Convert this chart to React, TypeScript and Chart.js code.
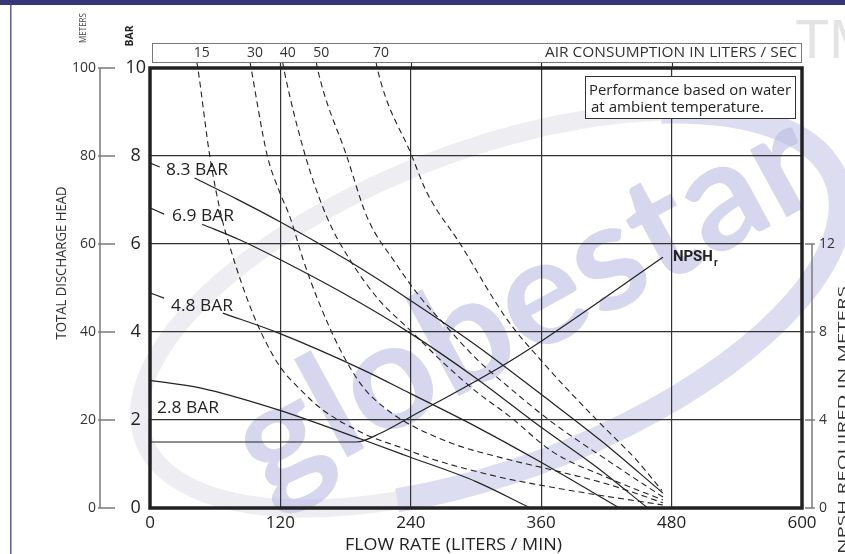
import React, { useEffect, useRef } from 'react';
import { Chart, registerables } from 'chart.js';

Chart.register(...registerables);

// ---------------- DATA ----------------
const flowTicks = [0, 120, 240, 360, 480, 600];
const barTicks = [0, 2, 4, 6, 8, 10];
const meterTicks = [0, 20, 40, 60, 80, 100];
const npshTicks = [0, 4, 8, 12];

// Pressure curves: [flow L/min, head bar]
const bar83 = [[41, 7.5], [80, 7.02], [120, 6.5], [181, 5.64], [239, 4.73], [300, 3.7], [359, 2.6], [414, 1.55], [472, 0.34]];
const bar69 = [[48, 6.45], [83, 6.09], [120, 5.64], [180, 4.85], [239, 3.98], [300, 2.95], [359, 1.85], [410, 0.95], [458, 0]];
const bar48 = [[67, 4.43], [118, 3.98], [196, 3.14], [239, 2.61], [300, 1.85], [359, 1.05], [432, 0]];
const bar28 = [[0, 2.9], [46, 2.73], [118, 2.23], [196, 1.55], [239, 1.16], [300, 0.6], [350, 0]];

// Label leaders [flow, bar]
const lead83 = [[0, 7.84], [9, 7.75]];
const lead69 = [[0, 6.82], [13, 6.68]];
const lead48 = [[0, 4.89], [13, 4.77]];

// Air consumption curves (liters/sec) [flow, bar]
const air15 = [[43, 10.14], [44, 10], [55, 8], [66, 6.6], [74, 5.9], [83, 5.2], [95, 4.4], [106, 3.8], [120, 3.2], [140, 2.65], [159, 2.23], [196, 1.7], [237, 1.32], [260, 1.11], [322, 0.7], [359, 0.52], [411, 0.3], [472, 0.07]];
const air30 = [[92, 10.14], [93, 10], [108, 8], [119, 7.2], [129, 6.6], [141, 5.64], [155, 4.7], [175, 3.6], [196, 2.75], [220, 2.2], [239, 1.9], [280, 1.45], [322, 1.15], [371, 0.86], [420, 0.55], [472, 0.12]];
const air40 = [[122, 10.14], [123, 10], [143, 8], [163, 6.6], [184, 5.64], [210, 4.75], [239, 4.05], [270, 3.3], [300, 2.65], [330, 2.1], [371, 1.27], [420, 0.7], [472, 0.18]];
const air50 = [[153, 10.14], [154, 10], [181, 8], [200, 6.6], [225, 5.6], [250, 4.75], [270, 4.2], [300, 3.4], [330, 2.75], [371, 1.93], [420, 1.1], [472, 0.25]];
const air70 = [[208, 10.14], [209, 10], [241, 8], [255, 7.16], [285, 6.02], [329, 4.27], [360, 3.35], [384, 2.7], [412, 1.98], [448, 1.08], [471, 0.4]];
const airLabels = ['15', '30', '40', '50', '70'];
const airTops = [44, 93, 123, 154, 209];

// NPSH required [flow, meters]
const npsh = [[0, 3], [190, 3], [212, 3.4], [240, 4.15], [322, 6.4], [359, 7.55], [472, 11.4]];

const barLabels = ['8.3 BAR', '6.9 BAR', '4.8 BAR', '2.8 BAR'];

// ---------------- HELPERS ----------------
const pts = (a: number[][]) => a.map(([x, y]) => ({ x, y }));
const INK = '#222';

function drawText(ctx: CanvasRenderingContext2D, s: string, x: number, y: number, font: string, color: string, align: CanvasTextAlign, w?: number, rot = 0) {
  ctx.save();
  ctx.font = font;
  ctx.fillStyle = color;
  ctx.textBaseline = 'middle';
  ctx.translate(x, y);
  if (rot) ctx.rotate(rot);
  const m = ctx.measureText(s).width;
  const sx = w ? w / m : 1;
  ctx.scale(sx, 1);
  ctx.textAlign = align;
  ctx.fillText(s, 0, 0);
  ctx.restore();
}

const decor = {
  id: 'decor',
  beforeDraw(chart: any) {
    const ctx: CanvasRenderingContext2D = chart.ctx;
    ctx.save();
    ctx.fillStyle = '#fff';
    ctx.fillRect(0, 0, chart.width, chart.height);
    // swoosh
    ctx.lineWidth = 24;
    ctx.strokeStyle = 'rgba(188,188,228,0.5)';
    ctx.beginPath();
    ctx.ellipse(490, 310, 370, 160, -0.36, -0.9, 2.0);
    ctx.stroke();
    ctx.lineWidth = 18;
    ctx.strokeStyle = 'rgba(222,222,232,0.55)';
    ctx.beginPath();
    ctx.ellipse(490, 310, 370, 160, -0.36, 2.0, 5.38);
    ctx.stroke();
    // watermark
    ctx.save();
    ctx.translate(525, 305);
    ctx.rotate(-0.5);
    ctx.font = 'bold 150px Lato';
    ctx.fillStyle = 'rgba(186,186,228,0.6)';
    ctx.textAlign = 'center';
    ctx.textBaseline = 'middle';
    const m = ctx.measureText('globestar').width;
    ctx.scale(640 / m, 1);
    ctx.fillText('globestar', 0, 0);
    ctx.restore();
    // TM
    ctx.font = '56px "Liberation Sans"';
    ctx.fillStyle = '#e4e4e4';
    ctx.textAlign = 'left';
    ctx.textBaseline = 'alphabetic';
    ctx.fillText('TM', 795, 58);
    // top bar + frame
    ctx.fillStyle = '#35377a';
    ctx.fillRect(0, 0, chart.width, 5);
    ctx.fillStyle = '#5b5ba6';
    ctx.fillRect(10, 5, 1.5, chart.height - 5);
    ctx.restore();
  },
  afterDatasetsDraw(chart: any) {
    const ctx: CanvasRenderingContext2D = chart.ctx;
    const { left, right, top, bottom } = chart.chartArea;
    const xs = chart.scales.x, ys = chart.scales.y, ym = chart.scales.yM, yn = chart.scales.yN;
    ctx.save();
    // grid extensions up to the air box
    ctx.strokeStyle = '#333';
    ctx.lineWidth = 1.2;
    flowTicks.slice(1, 5).forEach(v => {
      const px = Math.round(xs.getPixelForValue(v)) + 0.5;
      ctx.beginPath(); ctx.moveTo(px, 62); ctx.lineTo(px, top); ctx.stroke();
    });
    // plot border
    ctx.lineWidth = 3.5;
    ctx.strokeStyle = '#222';
    ctx.strokeRect(left, top, right - left, bottom - top);
    // air box
    ctx.lineWidth = 1;
    ctx.strokeStyle = '#777';
    ctx.strokeRect(152.5, 43.5, 649, 19);
    drawText(ctx, 'AIR CONSUMPTION IN LITERS / SEC', 797, 53, '14px "Open Sans"', '#333', 'right', 252);
    airLabels.forEach((l, i) => {
      drawText(ctx, l, xs.getPixelForValue(airTops[i]) + 4, 53, '14px "Open Sans"', '#333', 'center');
    });
    // meters axis
    ctx.strokeStyle = '#7a7a7a';
    ctx.lineWidth = 1.5;
    ctx.beginPath(); ctx.moveTo(100, ym.getPixelForValue(100)); ctx.lineTo(100, ym.getPixelForValue(0)); ctx.stroke();
    meterTicks.forEach(v => {
      const py = ym.getPixelForValue(v);
      ctx.beginPath(); ctx.moveTo(98, py); ctx.lineTo(115, py); ctx.stroke();
      drawText(ctx, String(v), 96, py, '14px "Open Sans"', '#333', 'right');
    });
    // NPSH axis
    ctx.beginPath(); ctx.moveTo(812, yn.getPixelForValue(12)); ctx.lineTo(812, yn.getPixelForValue(0)); ctx.stroke();
    npshTicks.forEach(v => {
      const py = yn.getPixelForValue(v);
      ctx.beginPath(); ctx.moveTo(805, py); ctx.lineTo(815, py); ctx.stroke();
      drawText(ctx, String(v), 819, py, '14px "Open Sans"', '#333', 'left');
    });
    drawText(ctx, 'NPSH REQUIRED IN METERS', 843, 420, '13px "Open Sans"', '#333', 'center', 268, -Math.PI / 2);
    // titles
    drawText(ctx, 'TOTAL DISCHARGE HEAD', 62, 263, '14px "Open Sans"', '#333', 'center', 153, -Math.PI / 2);
    drawText(ctx, 'METERS', 83, 28, '9px "Open Sans"', '#444', 'center', 30, -Math.PI / 2);
    drawText(ctx, 'BAR', 130, 36, 'bold 11px "Open Sans"', '#222', 'center', 21, -Math.PI / 2);
    drawText(ctx, 'FLOW RATE (LITERS / MIN)', 345, 545, '17px "Open Sans"', '#222', 'left', 217);
    // curve labels
    const labPos = [[14.7, 7.68], [20.2, 6.64], [19.3, 4.59], [6.4, 2.27]];
    barLabels.forEach((l, i) => {
      const px = xs.getPixelForValue(labPos[i][0]);
      const py = ys.getPixelForValue(labPos[i][1]);
      drawText(ctx, l, px, py, '17px "Open Sans"', '#222', 'left', 62);
    });
    // NPSHr label
    const nx = xs.getPixelForValue(npsh[npsh.length - 1][0]) + 10;
    const ny = yn.getPixelForValue(npsh[npsh.length - 1][1]);
    drawText(ctx, 'NPSH', nx, ny, 'bold 15px Roboto', '#222', 'left', 40);
    drawText(ctx, 'r', nx + 41, ny + 6, 'bold 10px Roboto', '#222', 'left');
    // legend box
    ctx.fillStyle = '#fff';
    ctx.fillRect(585.5, 76.5, 210, 42);
    ctx.strokeStyle = '#333';
    ctx.lineWidth = 1;
    ctx.strokeRect(585.5, 76.5, 210, 42);
    drawText(ctx, 'Performance based on water', 589, 91, '14.5px "Open Sans"', '#222', 'left', 202);
    drawText(ctx, 'at ambient temperature.', 591, 108, '14.5px "Open Sans"', '#222', 'left', 173);
    ctx.restore();
  },
};

const solid = (d: number[][], yAxisID = 'y') => ({
  data: pts(d), yAxisID, borderColor: INK, borderWidth: 1.2, pointRadius: 0,
  cubicInterpolationMode: 'monotone' as const, fill: false,
});
const dashed = (d: number[][]) => ({
  data: pts(d), yAxisID: 'y', borderColor: INK, borderWidth: 1.1, borderDash: [6, 4], pointRadius: 0,
  cubicInterpolationMode: 'monotone' as const, fill: false, clip: { left: 0, top: 8, right: 0, bottom: 0 },
});

export default function App() {
  const ref = useRef<HTMLCanvasElement>(null);
  useEffect(() => {
    if (!ref.current) return;
    const chart = new Chart(ref.current, {
      type: 'line',
      data: {
        datasets: [
          solid(bar83), solid(bar69), solid(bar48), solid(bar28),
          solid(lead83), solid(lead69), solid(lead48),
          dashed(air15), dashed(air30), dashed(air40), dashed(air50), dashed(air70),
          solid(npsh, 'yN'),
        ] as any,
      },
      options: {
        responsive: false,
        devicePixelRatio: 1,
        animation: false,
        layout: { padding: { left: 0, top: 68, right: 43, bottom: 0 } },
        plugins: { legend: { display: false }, tooltip: { enabled: false } },
        scales: {
          x: {
            type: 'linear', position: 'bottom', min: 0, max: 600,
            afterBuildTicks: (s: any) => { s.ticks = flowTicks.map(v => ({ value: v })); },
            afterFit: (s: any) => { s.height = 46; },
            ticks: { font: { family: 'Open Sans', size: 17 }, color: INK, padding: 5, maxRotation: 0 },
            grid: { color: '#333', lineWidth: 1.2, drawTicks: false },
            border: { display: false },
          },
          y: {
            type: 'linear', position: 'left', min: 0, max: 10,
            afterBuildTicks: (s: any) => { s.ticks = barTicks.map(v => ({ value: v })); },
            afterFit: (s: any) => { s.width = 150; },
            ticks: { font: { family: 'Open Sans', size: 18 }, color: INK, padding: 4, crossAlign: 'center' },
            grid: { color: '#333', lineWidth: 1.2, drawTicks: false },
            border: { display: false },
          },
          yM: { type: 'linear', position: 'left', min: 0, max: 100, display: false },
          yN: { type: 'linear', position: 'right', min: 0, max: 20, display: false },
        },
      } as any,
      plugins: [decor],
    });
    return () => chart.destroy();
  }, []);
  return (
    <div style={{ position: 'fixed', left: 0, top: 0, width: 845, height: 554, background: '#fff' }}>
      <canvas ref={ref} width={845} height={554} style={{ display: 'block', width: 845, height: 554 }} />
    </div>
  );
}
